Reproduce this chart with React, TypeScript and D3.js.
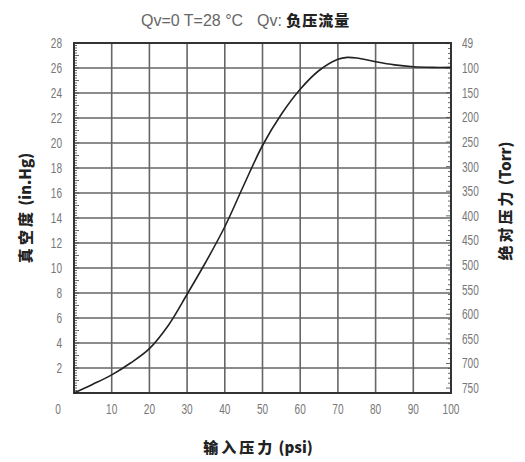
import React from "react";
import * as d3 from "d3";

const psi = [0, 5, 10, 15, 20, 25, 30, 35, 40, 45, 50, 55, 60, 65, 70, 72.5, 75, 80, 85, 90, 95, 100];
const vacuum = [0, 0.7, 1.45, 2.4, 3.55, 5.4, 7.9, 10.5, 13.3, 16.6, 19.8, 22.3, 24.3, 25.8, 26.7, 26.85, 26.8, 26.5, 26.25, 26.1, 26.05, 26.05];
const xTicks = [0, 10, 20, 30, 40, 50, 60, 70, 80, 90, 100];
const yTicks = [2, 4, 6, 8, 10, 12, 14, 16, 18, 20, 22, 24, 26, 28];
const torrTicks = [49, 100, 150, 200, 250, 300, 350, 400, 450, 500, 550, 600, 650, 700, 750];

export default function App() {
  const W = 525, H = 462;
  const L = 74, R = 451, T = 43, B = 393;
  const x = d3.scaleLinear().domain([0, 100]).range([L, R]);
  const y = d3.scaleLinear().domain([0, 28]).range([B, T]);
  const torrY = (t: number) => y((760 - t) / 25.4);
  const line = d3.line<number>().x((d, i) => x(psi[i])).y((d) => y(d)).curve(d3.curveCatmullRom.alpha(0.5));
  const minorL = d3.range(0, 28.001, 0.2);
  const minorR = d3.range(50, 760, 10);
  const font = "'Liberation Sans', Arial, sans-serif";
  const cjk = "'Noto Sans CJK SC', sans-serif";
  const grey = "#777";
  const sx = 0.72;
  return (
    <svg width={W} height={H} style={{ position: "absolute", left: 0, top: 0 }} fontFamily={font}>
      <rect width={W} height={H} fill="#fff" />
      <text x={141} y={26} textAnchor="start" fontSize={16} fill="#666">
        Qv=0 T=28 °C
      </text>
      <text x={257} y={26} textAnchor="start" fontSize={16} fill="#666">
        <tspan>Qv: </tspan>
        <tspan fontWeight="900" fill="#222" fontFamily={cjk} fontSize={15} letterSpacing={1}>负压流量</tspan>
      </text>
      {xTicks.slice(1, -1).map((t) => (
        <line key={"gx" + t} x1={x(t)} x2={x(t)} y1={T} y2={B} stroke="#666" strokeWidth={1.6} />
      ))}
      {yTicks.slice(0, -1).map((t) => (
        <line key={"gy" + t} x1={L} x2={R} y1={y(t)} y2={y(t)} stroke="#666" strokeWidth={1.6} />
      ))}
      {minorL.map((t, i) => {
        const major = Math.abs(t - Math.round(t)) < 1e-6;
        return <line key={"ml" + i} x1={L} x2={L + (major ? 5 : 3)} y1={y(t)} y2={y(t)} stroke="#444" strokeWidth={0.8} />;
      })}
      {minorR.map((t, i) => {
        const major = t % 50 === 0;
        return <line key={"mr" + i} x1={R} x2={R - (major ? 5 : 3)} y1={torrY(t)} y2={torrY(t)} stroke="#444" strokeWidth={0.8} />;
      })}
      <rect x={L} y={T} width={R - L} height={B - T} fill="none" stroke="#333" strokeWidth={2} />
      <path d={line(vacuum) || ""} fill="none" stroke="#222" strokeWidth={1.6} />
      {yTicks.map((t) => (
        <text key={"yl" + t} x={62} y={y(t) + 5} textAnchor="end" fontSize={14} fill={grey} transform={`translate(62,0) scale(${sx},1) translate(-62,0)`}>
          {t}
        </text>
      ))}
      {xTicks.map((t) => {
        const cx = t === 0 ? 58 : x(t);
        return (
          <text key={"xl" + t} x={cx} y={414} textAnchor="middle" fontSize={14} fill={grey} transform={`translate(${cx},0) scale(${sx},1) translate(${-cx},0)`}>
            {t}
          </text>
        );
      })}
      {torrTicks.map((t) => (
        <text key={"tl" + t} x={462} y={torrY(t) + 5} textAnchor="start" fontSize={14} fill={grey} transform={`translate(462,0) scale(${sx},1) translate(-462,0)`}>
          {t}
        </text>
      ))}
      <text x={258} y={453} textAnchor="middle" fontSize={15} fontWeight="900" fill="#222" fontFamily={cjk}>
        <tspan letterSpacing={3}>输入压力</tspan>
        <tspan> (psi)</tspan>
      </text>
      <text transform="translate(31,208) rotate(-90)" textAnchor="middle" fontSize={15} fontWeight="900" fill="#222" fontFamily={cjk}>
        <tspan letterSpacing={3}>真空度</tspan>
        <tspan> (in.Hg)</tspan>
      </text>
      <text transform="translate(511,201) rotate(-90)" textAnchor="middle" fontSize={15} fontWeight="900" fill="#222" fontFamily={cjk}>
        <tspan letterSpacing={3}>绝对压力</tspan>
        <tspan> (Torr)</tspan>
      </text>
    </svg>
  );
}
